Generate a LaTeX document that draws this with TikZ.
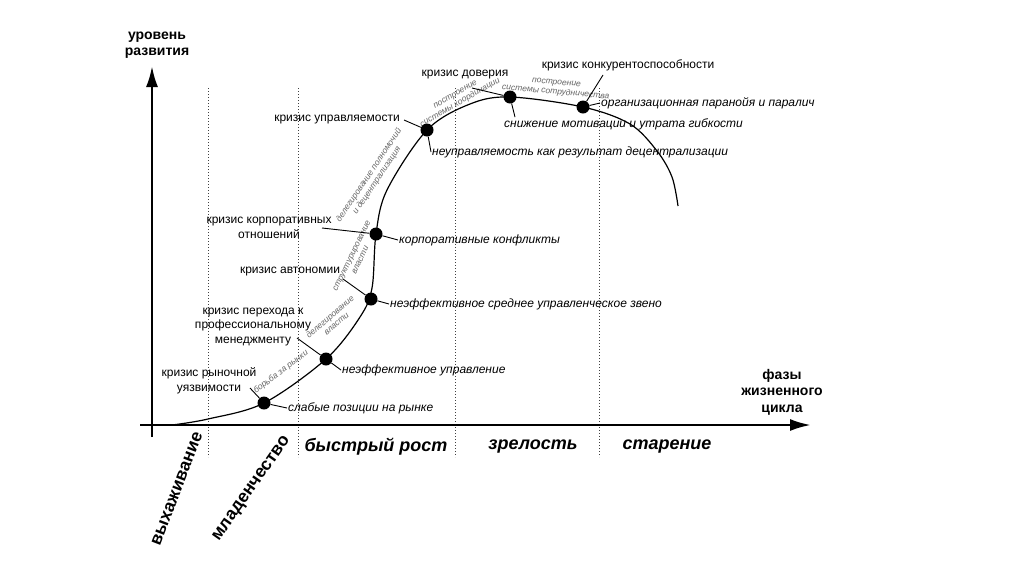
\documentclass[tikz,border=0pt]{standalone}
\usepackage{fontspec}
\setmainfont{Liberation Sans}
\usetikzlibrary{arrows.meta}

\begin{document}
\begin{tikzpicture}[x=1pt,y=-1pt,>=Latex,
  crisis/.style={font=\fontsize{12}{14.5}\selectfont,align=center,inner sep=1pt},
  issue/.style={font=\itshape\fontsize{12}{14}\selectfont,anchor=west,inner sep=1pt},
  hint/.style={font=\itshape\fontsize{8.5}{9.5}\selectfont,text=black!60,align=center,inner sep=0pt},
  phase/.style={font=\bfseries\itshape\fontsize{18}{20}\selectfont},
  vphase/.style={font=\bfseries\fontsize{17.5}{19}\selectfont},
  axlabel/.style={font=\bfseries\fontsize{14}{16.5}\selectfont,align=center},
  guide/.style={dash pattern=on 1pt off 2pt,line width=0.9pt,black!75},
  axis/.style={line width=2.6pt,-{Latex[length=21pt,width=12pt]}},
  dot/.style={circle,fill=black,inner sep=0pt,minimum size=13pt},
  leader/.style={line width=0.9pt}]
\useasboundingbox (0,0) rectangle (1024,574);
\fill[white] (0,0) rectangle (1024,574);

\foreach \gx in {208,298,455,599}
  \draw[guide] (\gx,88) -- (\gx,457);

\coordinate (o1) at (152,437);
\coordinate (o2) at (152,66);
\coordinate (o3) at (140,425);
\coordinate (o4) at (811,425);
\draw[axis] (o1) -- (o2);
\draw[axis] (o3) -- (o4);

\node[axlabel] (ylab) at (157,45) {уровень\\развития};
\node[axlabel] (xlab) at (782,392) {фазы\\жизненного\\цикла};

\draw[line width=1.2pt] plot[smooth,tension=0.55] coordinates {(172,425) (208,419) (264,403) (326,359) (360,317) (372,288) (376,234) (387,190) (427,130) (470,104) (510,97) (583,107) (630,124) (657,151) (672,177) (678,206)};

\node[hint,rotate=37] (h1) at (281,372) {борьба за рынки};
\node[hint,rotate=41] (h2) at (333,320) {делегирование\\власти};
\node[hint,rotate=64] (h3) at (356,258) {структурирование\\власти};
\node[hint,rotate=56] (h4) at (373,178) {делегирование полномочий\\и децентрализация};
\node[hint,rotate=30] (h5) at (458,99) {построение\\системы координации};
\node[hint,rotate=-5] (h6) at (556,88) {построение\\системы сотрудничества};

\node[dot] (d1) at (264,403) {};
\node[dot] (d2) at (326,359) {};
\node[dot] (d3) at (371,299) {};
\node[dot] (d4) at (376,234) {};
\node[dot] (d5) at (427,130) {};
\node[dot] (d6) at (510,97) {};
\node[dot] (d7) at (583,107) {};

\node[crisis] (c1) at (209,381) {кризис рыночной\\уязвимости};
\node[crisis] (c2) at (253,327) {кризис перехода к\\профессиональному\\менеджменту};
\node[crisis] (c3) at (290,272) {кризис автономии};
\node[crisis] (c4) at (269,228) {кризис корпоративных\\отношений};
\node[crisis] (c5) at (337,120) {кризис управляемости};
\node[crisis] (c6) at (465,75) {кризис доверия};
\node[crisis] (c7) at (628,65) {кризис конкурентоспособности};

\coordinate (l1) at (250,388);
\coordinate (l2) at (297,338);
\coordinate (l3) at (343,279);
\coordinate (l4) at (322,228);
\coordinate (l5) at (404,120);
\coordinate (l6) at (472,88);
\coordinate (l7) at (603,75);
\draw[leader] (l1) -- (d1);
\draw[leader] (l2) -- (d2);
\draw[leader] (l3) -- (d3);
\draw[leader] (l4) -- (d4);
\draw[leader] (l5) -- (d5);
\draw[leader] (l6) -- (d6);
\draw[leader] (l7) -- (d7);

\node[issue] (p1) at (287,408) {слабые позиции на рынке};
\node[issue] (p2) at (341,370) {неэффективное управление};
\node[issue] (p3) at (389,304) {неэффективное среднее управленческое звено};
\node[issue] (p4) at (398,240) {корпоративные конфликты};
\node[issue] (p5) at (431,152) {неуправляемость как результат децентрализации};
\node[issue] (p6) at (503,124) {снижение мотивации и утрата гибкости};
\node[issue] (p7) at (600,103) {организационная паранойя и паралич};
\draw[leader] (d1) -- (p1.west);
\draw[leader] (d2) -- (p2.west);
\draw[leader] (d3) -- (p3.west);
\draw[leader] (d4) -- (p4.west);
\draw[leader] (d5) -- (p5.west);
\draw[leader] (d6) -- ([xshift=12pt]p6.north west);
\draw[leader] (d7) -- (p7.west);

\node[vphase,rotate=69] (f1) at (177,489) {выхаживание};
\node[vphase,rotate=55] (f2) at (252,489) {младенчество};
\node[phase] (f3) at (376,447) {быстрый рост};
\node[phase] (f4) at (533,447) {зрелость};
\node[phase] (f5) at (667,447) {старение};
\end{tikzpicture}
\end{document}
